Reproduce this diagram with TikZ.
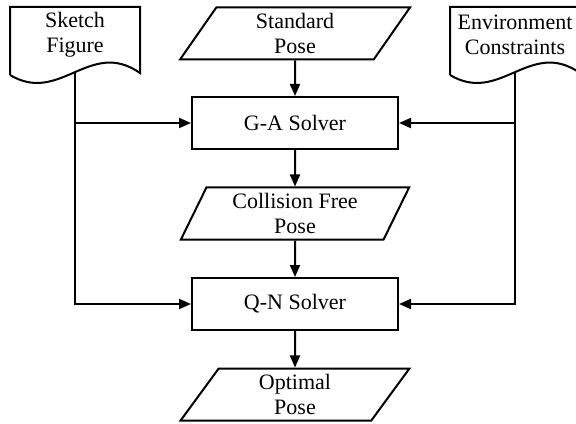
\documentclass[tikz,border=0pt]{standalone}
\usepackage{fontspec}
\setmainfont{Liberation Serif}
\usepackage{tikz}
\usetikzlibrary{shapes.geometric}
\usetikzlibrary{arrows.meta}

\begin{document}
\begin{tikzpicture}[x=0.5pt,y=0.5pt,line width=1pt,
		font=\fontsize{11}{12.5}\selectfont,
		solver/.style={draw,rectangle,minimum width=103pt,minimum height=26pt,inner sep=0pt,align=center},
		posebox/.style={draw,trapezium,trapezium left angle=66,trapezium right angle=114,trapezium stretches=true,minimum width=115pt,minimum height=26pt,inner sep=0pt,align=center},
		flow/.style={-{Triangle[length=6pt,width=5pt]}}]
			\useasboundingbox (0,0) rectangle (576,423);
			\clip (0,0) rectangle (576,423);
			% documents
			\draw (10,348)-- (10,416)-- (140,416)-- (140,350) .. controls (90,385) and (60,318) .. (10,348);
			\draw (450,348)-- (450,416)-- (580,416)-- (580,350) .. controls (530,385) and (500,318) .. (450,348);
			\coordinate (skout) at (75,350.9);
			\coordinate (envout) at (515,350.9);
			\node[align=center] (sketch) at (75,388) {Sketch\\Figure};
			\node[align=center] (env) at (515,388) {Environment\\Constraints};
			% poses and solvers
			\node[posebox] (std) at (295,389.5) {Standard\\Pose};
			\node[solver] (ga) at (295,300) {G-A Solver};
			\node[posebox] (cfree) at (295,209.5) {Collision Free\\Pose};
			\node[solver] (qn) at (295,119) {Q-N Solver};
			\node[posebox] (opt) at (295,28.5) {Optimal\\Pose};
			% connectors
			\draw[flow] (std)-- (ga);
			\draw[flow] (ga)-- (cfree);
			\draw[flow] (cfree)-- (qn);
			\draw[flow] (qn)-- (opt);
			\draw[flow] (skout)-- (skout |- qn.west)-- (qn.west);
			\draw[flow] (skout |- ga.west)-- (ga.west);
			\draw[flow] (envout)-- (envout |- qn.east)-- (qn.east);
			\draw[flow] (envout |- ga.east)-- (ga.east);
		\end{tikzpicture}
\end{document}
